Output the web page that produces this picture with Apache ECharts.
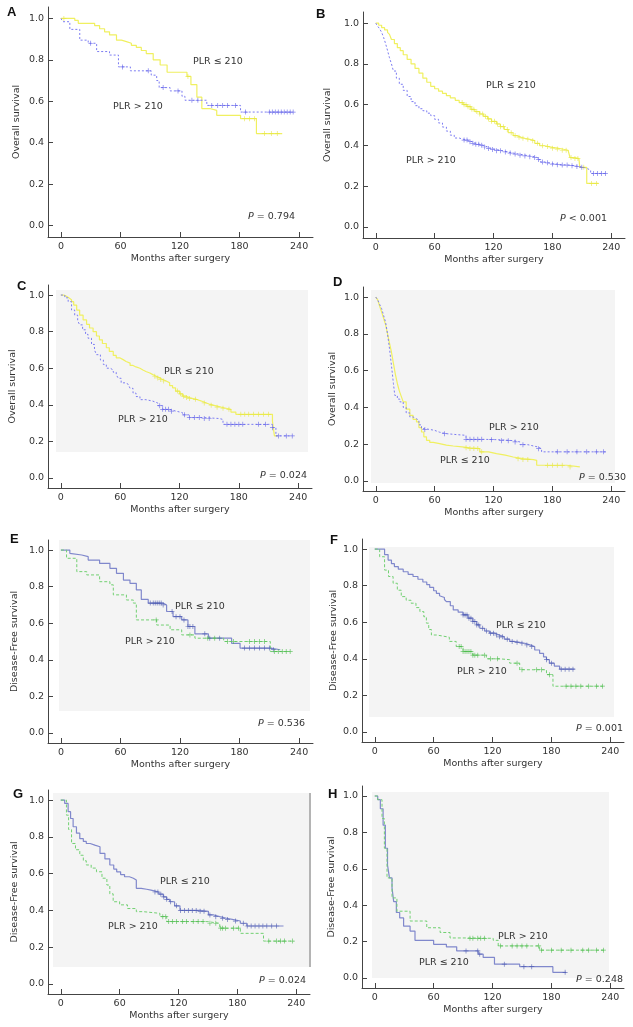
<!DOCTYPE html>
<html><head><meta charset="utf-8">
<script src="https://cdn.jsdelivr.net/npm/echarts@6/dist/echarts.min.js"></script>
<style>html,body{margin:0;padding:0;background:#fff}#c{width:633px;height:1027px}</style>
</head><body><div id="c"></div><script>
// ---------- tick labels ----------
const xTicks = [0, 60, 120, 180, 240];
const yTicks = [0, 0.2, 0.4, 0.6, 0.8, 1.0];
const panelLetters = ['A','B','C','D','E','F','G','H'];
const yTitles = ['Overall survival','Overall survival','Overall survival','Overall survival',
  'Disease-Free survival','Disease-Free survival','Disease-Free survival','Disease-Free survival'];
const xTitle = 'Months after surgery';
const labelLow = 'PLR ≤ 210';
const labelHigh = 'PLR > 210';
const pTexts = ['= 0.794','< 0.001','= 0.024','= 0.530','= 0.536','= 0.001','= 0.024','= 0.248'];

// ---------- data: A ----------
const A_low_t = [0, 14, 17.5, 34, 39, 44, 49, 56, 61, 66, 71, 76, 81, 86, 93, 100, 107, 127, 131, 137, 142, 150, 157, 181, 197, 223];
const A_low_s = [1.0, 0.99, 0.976, 0.965, 0.95, 0.935, 0.92, 0.895, 0.888, 0.88, 0.87, 0.86, 0.845, 0.83, 0.80, 0.775, 0.74, 0.72, 0.68, 0.62, 0.565, 0.556, 0.532, 0.516, 0.444, 0.444];
const A_low_c = [3, 128, 185, 190, 195, 205, 212, 218];
const A_high_t = [0, 2, 9, 19, 27.5, 36, 49, 58, 70, 91, 96.5, 99, 110, 122, 125, 147, 181, 234];
const A_high_s = [1.0, 0.984, 0.947, 0.895, 0.88, 0.84, 0.823, 0.766, 0.747, 0.726, 0.70, 0.666, 0.65, 0.624, 0.605, 0.58, 0.548, 0.548];
const A_high_c = [30, 62, 88, 103, 118, 132, 138, 152, 158, 163, 168, 176, 186, 210, 213, 216, 219, 222, 225, 228, 231, 234];
// ---------- data: B ----------
const B_low_t = [0, 3, 6, 9, 12, 14, 16, 19, 22, 25, 28, 32, 36, 40, 44, 48, 52, 56, 60, 64, 68, 72, 76, 81, 85, 89, 93, 97, 101, 106, 110, 114, 118, 123, 127, 131, 135, 140, 144, 148, 152, 157, 162, 167, 172, 176, 180, 185, 190, 196, 198, 203, 207, 208, 215, 227];
const B_low_s = [1.0, 0.99, 0.978, 0.967, 0.955, 0.945, 0.92, 0.9, 0.88, 0.865, 0.845, 0.822, 0.8, 0.778, 0.755, 0.73, 0.71, 0.69, 0.678, 0.666, 0.655, 0.644, 0.633, 0.621, 0.61, 0.6, 0.59, 0.577, 0.566, 0.554, 0.542, 0.53, 0.518, 0.505, 0.492, 0.478, 0.462, 0.448, 0.44, 0.435, 0.43, 0.423, 0.41, 0.398, 0.394, 0.39, 0.386, 0.382, 0.376, 0.37, 0.34, 0.335, 0.328, 0.292, 0.213, 0.213];
const B_low_c = [88, 90, 92, 94, 96, 98, 100, 103, 106, 109, 112, 115, 118, 121, 124, 127, 130, 134, 138, 142, 146, 150, 155, 160, 165, 170, 175, 180, 185, 190, 194, 199, 203, 206, 212, 220, 225];
const B_high_t = [0, 2, 4, 6, 8, 10, 12, 14, 16, 18, 21, 24, 28, 32, 36, 40, 44, 48, 52, 56, 60, 64, 68, 72, 76, 80, 85, 89, 94, 98, 102, 106, 110, 114, 118, 123, 128, 134, 140, 146, 152, 157, 162, 165, 168, 172, 176, 180, 185, 190, 196, 202, 208, 212, 216, 219, 235.6];
const B_high_s = [1.0, 0.985, 0.972, 0.955, 0.93, 0.9, 0.866, 0.83, 0.8, 0.765, 0.73, 0.7, 0.67, 0.64, 0.615, 0.595, 0.58, 0.57, 0.558, 0.546, 0.528, 0.51, 0.49, 0.47, 0.45, 0.436, 0.43, 0.426, 0.418, 0.41, 0.405, 0.4, 0.392, 0.385, 0.38, 0.374, 0.368, 0.362, 0.357, 0.352, 0.348, 0.344, 0.34, 0.33, 0.318, 0.314, 0.31, 0.308, 0.305, 0.303, 0.3, 0.296, 0.292, 0.285, 0.278, 0.262, 0.262];
const B_high_c = [90, 93, 96, 99, 102, 105, 108, 111, 115, 119, 123, 127, 132, 137, 142, 147, 152, 157, 162, 166, 170, 175, 180, 185, 190, 195, 200, 205, 210, 222, 226, 230, 234];
// ---------- data: C ----------
const C_low_t = [0, 3, 5.7, 8, 10.8, 13, 16, 19, 22.5, 26, 29, 32.6, 36, 39, 42, 46, 49, 53, 56, 59.5, 63, 66, 70, 73, 76, 80, 83, 86, 90, 93, 96.5, 100, 103, 106.5, 110, 113, 116, 120, 123, 127, 130, 133, 137, 140, 143.5, 147, 150, 154, 158, 162, 167, 172, 177, 214, 216, 219];
const C_low_s = [1.0, 0.993, 0.985, 0.975, 0.964, 0.945, 0.918, 0.89, 0.864, 0.84, 0.82, 0.8, 0.776, 0.755, 0.735, 0.712, 0.692, 0.67, 0.657, 0.647, 0.637, 0.628, 0.615, 0.607, 0.6, 0.59, 0.582, 0.574, 0.565, 0.556, 0.547, 0.538, 0.53, 0.52, 0.505, 0.493, 0.475, 0.46, 0.447, 0.44, 0.435, 0.43, 0.424, 0.418, 0.41, 0.404, 0.398, 0.393, 0.387, 0.381, 0.375, 0.36, 0.348, 0.31, 0.23, 0.23];
const C_low_c = [95, 98, 101, 104, 118, 121, 124, 127, 130, 136, 145, 152, 158, 164, 170, 182, 186, 190, 195, 200, 205, 210];
const C_high_t = [0, 4, 7.4, 10.8, 14, 17, 19, 22, 25, 27.5, 31, 34, 36, 40, 43, 46, 50, 53, 56, 58, 61, 65, 68, 70, 73, 76, 80, 86, 93, 98, 103, 110, 116.6, 123, 130, 145, 160, 164, 214, 217.5, 234];
const C_high_s = [1.0, 0.985, 0.964, 0.918, 0.89, 0.86, 0.837, 0.81, 0.785, 0.764, 0.73, 0.7, 0.674, 0.645, 0.62, 0.6, 0.59, 0.578, 0.565, 0.545, 0.52, 0.513, 0.51, 0.49, 0.464, 0.445, 0.428, 0.42, 0.41, 0.395, 0.375, 0.365, 0.357, 0.345, 0.33, 0.325, 0.32, 0.293, 0.275, 0.23, 0.23];
const C_high_c = [100, 103, 106, 109, 112, 125, 130, 135, 140, 145, 150, 168, 172, 176, 180, 184, 200, 207, 214, 220, 228, 234];
// ---------- data: D ----------
const D_low_t = [0, 2, 4, 6, 8, 10, 12, 14, 16, 18, 20, 22, 24, 26, 28, 31, 34.7, 38, 41.5, 44, 46.6, 49, 51.7, 55, 58.6, 65, 72, 79, 88, 96, 106, 115, 123, 132, 140, 150, 160.7, 164, 194.7, 208];
const D_low_s = [1.0, 0.985, 0.95, 0.918, 0.885, 0.85, 0.8, 0.75, 0.7, 0.64, 0.58, 0.53, 0.49, 0.46, 0.43, 0.39, 0.357, 0.335, 0.321, 0.29, 0.266, 0.24, 0.221, 0.21, 0.203, 0.195, 0.19, 0.185, 0.18, 0.176, 0.158, 0.148, 0.14, 0.13, 0.121, 0.116, 0.112, 0.085, 0.076, 0.076];
const D_low_c = [92, 96, 100, 104, 108, 145, 150, 155, 175, 180, 185, 190, 198];
const D_high_t = [0, 2, 4, 6, 8, 10, 12, 14, 16, 18, 19.4, 22, 24.5, 28, 31, 34.7, 38, 41.5, 44, 46.6, 50, 55, 60, 65, 72, 82, 92, 110, 126.6, 140, 147, 155, 160.7, 165, 169, 235.6];
const D_high_s = [1.0, 0.985, 0.96, 0.937, 0.9, 0.864, 0.8, 0.72, 0.628, 0.53, 0.465, 0.445, 0.43, 0.4, 0.37, 0.348, 0.338, 0.33, 0.305, 0.284, 0.28, 0.275, 0.265, 0.257, 0.252, 0.248, 0.226, 0.224, 0.219, 0.212, 0.197, 0.19, 0.185, 0.175, 0.158, 0.158];
const D_high_c = [50, 70, 92, 96, 100, 104, 108, 118, 128, 135, 142, 150, 166, 185, 195, 205, 215, 225, 232];
// ---------- data: E ----------
const E_low_t = [0, 9, 10.8, 21, 27.5, 39, 49.4, 56, 63, 69.6, 76, 81, 88, 103, 106.5, 113, 121.7, 128, 135, 148.6, 172, 180.5, 211, 221];
const E_low_s = [1.0, 0.982, 0.973, 0.964, 0.945, 0.927, 0.9, 0.873, 0.836, 0.818, 0.782, 0.73, 0.71, 0.7, 0.664, 0.636, 0.618, 0.582, 0.542, 0.518, 0.49, 0.464, 0.455, 0.455];
const E_low_c = [90, 93, 95, 97, 99, 101, 103, 112, 116, 120, 124, 128, 130, 133, 145, 150, 160, 185, 190, 195, 200, 205, 210, 214];
const E_high_t = [0, 5.7, 16, 26, 39, 49.4, 52.8, 66, 73, 76, 96.5, 110, 121.7, 135, 164, 211, 231];
const E_high_s = [1.0, 0.955, 0.882, 0.864, 0.827, 0.81, 0.755, 0.727, 0.71, 0.618, 0.59, 0.564, 0.536, 0.518, 0.5, 0.445, 0.445];
const E_high_c = [96, 130, 148, 155, 168, 174, 190, 195, 200, 205, 215, 219, 223, 227, 231];
// ---------- data: F ----------
const F_low_t = [0, 10, 13.6, 17, 20, 24, 29, 34, 39, 44, 49, 53, 56, 60, 62.8, 66, 68, 71, 73, 77, 80, 85, 90, 95, 100, 104, 107, 112, 117, 122, 127, 132, 137.5, 142, 147.7, 153, 158, 163, 168, 172, 175, 178, 183, 188.4, 203.7];
const F_low_s = [1.0, 0.97, 0.94, 0.92, 0.904, 0.89, 0.876, 0.862, 0.85, 0.835, 0.82, 0.805, 0.79, 0.772, 0.758, 0.745, 0.735, 0.724, 0.713, 0.69, 0.667, 0.655, 0.64, 0.622, 0.604, 0.585, 0.567, 0.552, 0.54, 0.53, 0.52, 0.507, 0.495, 0.49, 0.485, 0.476, 0.467, 0.448, 0.43, 0.41, 0.395, 0.376, 0.36, 0.343, 0.343];
const F_low_c = [90, 92, 94, 96, 98, 100, 102, 104, 106, 110, 114, 118, 121, 124, 127, 130, 135, 140, 145, 150, 155, 160, 175, 180, 190, 194, 198, 202];
const F_high_t = [0, 5, 10, 14, 18.7, 23, 27, 32, 37, 42, 46, 50, 52.6, 55, 57.7, 63, 69.6, 76, 83, 90, 100, 113.7, 127, 137.5, 147.7, 175, 181.6, 232.5];
const F_high_s = [1.0, 0.958, 0.885, 0.85, 0.813, 0.775, 0.74, 0.72, 0.704, 0.68, 0.658, 0.63, 0.595, 0.56, 0.53, 0.524, 0.518, 0.495, 0.467, 0.44, 0.42, 0.4, 0.395, 0.376, 0.34, 0.313, 0.25, 0.25];
const F_high_c = [86, 88, 90, 92, 94, 96, 98, 100, 102, 105, 112, 118, 125, 145, 150, 165, 170, 178, 195, 200, 205, 210, 218, 226, 232];
// ---------- data: G ----------
const G_low_t = [0, 4, 7.5, 10, 12.6, 16, 19.4, 23, 26, 30, 34.7, 40, 45, 50, 54, 57, 61, 65, 70, 74, 77, 82, 87.5, 92, 96, 100, 104.5, 108, 111, 116, 121.5, 142, 150.5, 156, 162, 169, 176, 183, 189.6, 227];
const G_low_s = [1.0, 0.982, 0.937, 0.9, 0.855, 0.82, 0.79, 0.775, 0.764, 0.755, 0.746, 0.71, 0.68, 0.647, 0.625, 0.61, 0.595, 0.583, 0.575, 0.565, 0.52, 0.515, 0.51, 0.505, 0.5, 0.488, 0.473, 0.46, 0.447, 0.425, 0.4, 0.395, 0.375, 0.366, 0.357, 0.35, 0.342, 0.33, 0.315, 0.315];
const G_low_c = [96, 99, 102, 105, 108, 112, 118, 122, 126, 130, 134, 138, 142, 146, 152, 158, 165, 170, 178, 186, 190, 194, 198, 202, 206, 210, 215, 220];
const G_high_t = [0, 5.8, 8, 11, 15, 19.4, 23, 26, 31, 36.4, 42, 47, 50, 53.4, 60, 68, 77, 84, 101, 108, 149, 162, 183, 206.6, 237];
const G_high_s = [1.0, 0.918, 0.84, 0.764, 0.73, 0.7, 0.67, 0.647, 0.63, 0.61, 0.575, 0.538, 0.49, 0.447, 0.43, 0.41, 0.393, 0.384, 0.366, 0.339, 0.33, 0.303, 0.275, 0.233, 0.233];
const G_high_c = [104, 107, 110, 114, 118, 124, 128, 135, 140, 145, 152, 158, 163, 165, 168, 176, 181, 212, 220, 224, 228, 236];
// ---------- data: H ----------
const H_low_t = [0, 3, 5.7, 8.5, 10.8, 13, 15, 17.6, 19.3, 22, 25.4, 29.4, 36, 41, 60, 73, 83.5, 105.5, 110.5, 122, 147.7, 181.5, 195];
const H_low_s = [1.0, 0.98, 0.93, 0.84, 0.713, 0.62, 0.55, 0.495, 0.42, 0.36, 0.33, 0.285, 0.258, 0.207, 0.185, 0.171, 0.149, 0.131, 0.113, 0.076, 0.062, 0.031, 0.031];
const H_low_c = [93, 105, 107, 132, 152, 160, 194];
const H_high_t = [0, 3, 7.4, 9.8, 12.5, 17.6, 22.6, 36, 53, 66.6, 76.7, 97, 120.7, 125.8, 168, 234];
const H_high_s = [1.0, 0.98, 0.876, 0.713, 0.55, 0.44, 0.367, 0.313, 0.276, 0.25, 0.22, 0.218, 0.207, 0.176, 0.153, 0.153];
const H_high_c = [97, 100, 105, 108, 112, 128, 140, 145, 150, 155, 167, 170, 180, 190, 200, 212, 218, 226, 233];

const curves = [
  [A_low_t, A_low_s, A_low_c, A_high_t, A_high_s, A_high_c],
  [B_low_t, B_low_s, B_low_c, B_high_t, B_high_s, B_high_c],
  [C_low_t, C_low_s, C_low_c, C_high_t, C_high_s, C_high_c],
  [D_low_t, D_low_s, D_low_c, D_high_t, D_high_s, D_high_c],
  [E_low_t, E_low_s, E_low_c, E_high_t, E_high_s, E_high_c],
  [F_low_t, F_low_s, F_low_c, F_high_t, F_high_s, F_high_c],
  [G_low_t, G_low_s, G_low_c, G_high_t, G_high_s, G_high_c],
  [H_low_t, H_low_s, H_low_c, H_high_t, H_high_s, H_high_c]
];

// ---------- layout (pixels) ----------
const grids = [
  {left: 48, top: 7, width: 265, height: 230},
  {left: 363, top: 12, width: 262, height: 226},
  {left: 48, top: 285, width: 264, height: 203},
  {left: 363, top: 287, width: 262, height: 204},
  {left: 48, top: 540, width: 265, height: 203},
  {left: 362, top: 539, width: 262, height: 203},
  {left: 48, top: 790, width: 262, height: 204},
  {left: 362, top: 786, width: 262, height: 202}
];
const yNameGaps = [26, 30, 30, 25, 28, 23, 28, 25];
const letterPos = [[7,6],[316,8],[17,280],[333,276],[10,533],[330,534],[13,788],[328,788]];
const lowLabelPos = [[193,62],[486,86],[164,372],[440,461],[175,607],[496,626],[160,882],[419,963]];
const highLabelPos = [[113,107],[406,161],[118,420],[489,428],[125,642],[457,672],[108,927],[498,937]];
const pPos = [[295,217],[607,219],[307,476],[626,478],[305,724],[623,729],[306,981],[623,980]];
const bgRects = [null, null,
  [56,290,308,452],[371,290,615,483],[59,540,310,711],[369,547,614,717],[53,793,311,967],[372,792,609,978]];

const FONT = 'DejaVu Sans';
const TXT = '#333';

function stepAt(ts, ss, t) { let v = ss[0]; for (let i = 0; i < ts.length; i++) if (ts[i] <= t) v = ss[i]; return v; }
function zip(ts, ss) { return ts.map((t, i) => [t, ss[i]]); }

const PLUS = 'path://M3,0H4V3H7V4H4V7H3V4H0V3H3Z';

const option = {animation: false, backgroundColor: '#fff', grid: [], xAxis: [], yAxis: [], series: [], graphic: []};

grids.forEach((g, i) => {
  option.grid.push({left: g.left, top: g.top, width: g.width, height: g.height, containLabel: false});
  option.xAxis.push({
    gridIndex: i, type: 'value', min: -13, max: 254,
    axisLine: {onZero: false, lineStyle: {color: '#444', width: 1}},
    axisTick: {inside: true, length: 5, customValues: xTicks, lineStyle: {color: '#444'}},
    axisLabel: {customValues: xTicks, color: TXT, fontSize: 9.5, fontFamily: FONT, margin: 5},
    splitLine: {show: false},
    name: xTitle, nameLocation: 'middle', nameGap: 17,
    nameTextStyle: {color: TXT, fontSize: 9.5, fontFamily: FONT}
  });
  option.yAxis.push({
    gridIndex: i, type: 'value', min: -0.055, max: 1.055,
    axisLine: {onZero: false, lineStyle: {color: '#444', width: 1}},
    axisTick: {inside: true, length: 5, customValues: yTicks, lineStyle: {color: '#444'}},
    axisLabel: {customValues: yTicks, color: TXT, fontSize: 9.5, fontFamily: FONT, margin: 4,
      formatter: v => v.toFixed(1)},
    splitLine: {show: false},
    name: yTitles[i], nameLocation: 'middle', nameGap: yNameGaps[i],
    nameTextStyle: {color: TXT, fontSize: 9.5, fontFamily: FONT}
  });
  const c = curves[i];
  const os = i < 4; // overall survival panels
  const lowColor = os ? '#f0f060' : '#8088cc';
  const lowMark = os ? '#e6e640' : '#4a57b0';
  const highColor = os ? '#7c7cf2' : '#72d072';
  const highMark = os ? '#6060e8' : '#4cbc4c';
  option.series.push({
    type: 'line', xAxisIndex: i, yAxisIndex: i, step: 'end', showSymbol: false, z: 3,
    data: zip(c[0], c[1]), lineStyle: {color: lowColor, width: 1.2, type: 'solid'}
  });
  option.series.push({
    type: 'scatter', xAxisIndex: i, yAxisIndex: i, symbol: PLUS, symbolSize: 5, z: 4,
    data: c[2].map(t => [t, stepAt(c[0], c[1], t)]), itemStyle: {color: lowMark}
  });
  option.series.push({
    type: 'line', xAxisIndex: i, yAxisIndex: i, step: 'end', showSymbol: false, z: 3,
    data: zip(c[3], c[4]), lineStyle: {color: highColor, width: 1, type: os ? [2, 2] : [3, 2]}
  });
  option.series.push({
    type: 'scatter', xAxisIndex: i, yAxisIndex: i, symbol: PLUS, symbolSize: 5, z: 4,
    data: c[5].map(t => [t, stepAt(c[3], c[4], t)]), itemStyle: {color: highMark}
  });

  // decorations
  const r = bgRects[i];
  if (r) option.graphic.push({type: 'rect', z: -10, silent: true,
    shape: {x: r[0], y: r[1], width: r[2] - r[0], height: r[3] - r[1]}, style: {fill: '#f4f4f4'}});
  option.graphic.push({type: 'text', x: letterPos[i][0], y: letterPos[i][1], z: 10,
    style: {text: panelLetters[i], font: 'bold 13px "Liberation Sans", Arial, sans-serif', fill: '#111',
      align: 'left', verticalAlign: 'top', textAlign: 'left', textVerticalAlign: 'top'}});
  option.graphic.push({type: 'text', x: lowLabelPos[i][0], y: lowLabelPos[i][1], z: 10,
    style: {text: labelLow, font: '9.5px "DejaVu Sans"', fill: TXT,
      align: 'left', verticalAlign: 'middle', textAlign: 'left', textVerticalAlign: 'middle'}});
  option.graphic.push({type: 'text', x: highLabelPos[i][0], y: highLabelPos[i][1], z: 10,
    style: {text: labelHigh, font: '9.5px "DejaVu Sans"', fill: TXT,
      align: 'left', verticalAlign: 'middle', textAlign: 'left', textVerticalAlign: 'middle'}});
  option.graphic.push({type: 'text', x: pPos[i][0], y: pPos[i][1], z: 10,
    style: {text: '{i|P} ' + pTexts[i], font: '9.5px "DejaVu Sans"', fill: TXT,
      rich: {i: {fontStyle: 'italic', fontSize: 9.5, fontFamily: FONT, fill: TXT, color: TXT}},
      align: 'right', verticalAlign: 'middle', textAlign: 'right', textVerticalAlign: 'middle'}});
});
// grey right border of panel G's shaded box
option.graphic.push({type: 'rect', z: -5, silent: true, shape: {x: 309, y: 793, width: 2, height: 174}, style: {fill: '#b4b4b4'}});

const chart = echarts.init(document.getElementById('c'), null, {renderer: 'canvas'});
chart.setOption(option);
</script></body></html>
